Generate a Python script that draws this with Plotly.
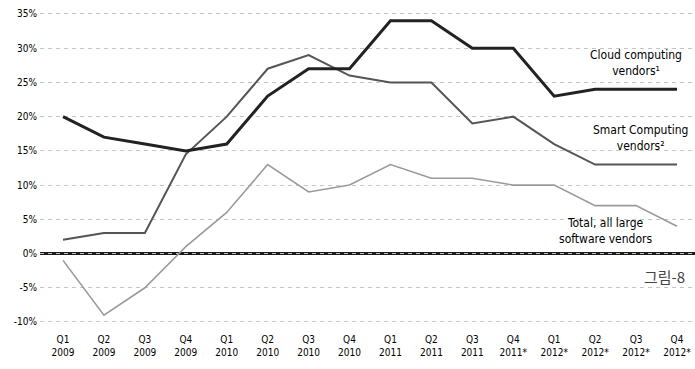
import plotly.graph_objects as go

quarters = ["Q1<br>2009", "Q2<br>2009", "Q3<br>2009", "Q4<br>2009",
            "Q1<br>2010", "Q2<br>2010", "Q3<br>2010", "Q4<br>2010",
            "Q1<br>2011", "Q2<br>2011", "Q3<br>2011", "Q4<br>2011*",
            "Q1<br>2012*", "Q2<br>2012*", "Q3<br>2012*", "Q4<br>2012*"]
cloud = [20, 17, 16, 15, 16, 23, 27, 27, 34, 34, 30, 30, 23, 24, 24, 24]
smart = [2, 3, 3, 14.5, 20, 27, 29, 26, 25, 25, 19, 20, 16, 13, 13, 13]
total = [-1, -9, -5, 1, 6, 13, 9, 10, 13, 11, 11, 10, 10, 7, 7, 4]
ytick_vals = [35, 30, 25, 20, 15, 10, 5, 0, -5, -10]
ytick_text = ["35%", "30%", "25%", "20%", "15%", "10%", "5%", "0%", "-5%", "-10%"]

FONT = "DejaVu Sans Condensed, Liberation Sans Narrow, sans-serif"
x = list(range(len(quarters)))

fig = go.Figure()
fig.add_trace(go.Scatter(x=x, y=total, mode="lines",
                         line=dict(color="#9a9a9a", width=1.6), showlegend=False))
fig.add_trace(go.Scatter(x=x, y=smart, mode="lines",
                         line=dict(color="#555555", width=2), showlegend=False))
fig.add_trace(go.Scatter(x=x, y=cloud, mode="lines",
                         line=dict(color="#222222", width=3), showlegend=False))

# zero line
fig.add_shape(type="line", xref="paper", yref="y", x0=0, x1=1, y0=0, y1=0,
              line=dict(color="#1a1a1a", width=3), layer="below")

fig.update_layout(
    width=695, height=369,
    margin=dict(l=40, r=0, t=10, b=39),
    plot_bgcolor="white", paper_bgcolor="white",
    font=dict(family=FONT, color="#000000", size=10),
    xaxis=dict(range=[-0.562, 15.44], tickmode="array", tickvals=x, ticktext=quarters,
               showgrid=False, zeroline=False, showline=False, ticks="",
               tickfont=dict(size=10, family=FONT), ticklabelstandoff=2),
    yaxis=dict(range=[-11.17, 35.58], tickmode="array", tickvals=ytick_vals,
               ticktext=ytick_text, showgrid=True, gridcolor="#c4c4c4",
               griddash="4px,4px", gridwidth=1, zeroline=False, showline=False,
               ticks="", tickfont=dict(size=10, family=FONT), ticklabelstandoff=2),
)

ann = [
    ("Cloud computing<br>vendors¹", 636, 63),
    ("Smart Computing<br>vendors²", 640, 138),
    ("Total, all large<br>software vendors", 606, 231),
]
for t, px, py in ann:
    fig.add_annotation(text=t, xref="paper", yref="paper",
                       x=(px - 40) / 655, y=1 - (py - 10) / 320,
                       showarrow=False, font=dict(size=12, family=FONT, color="#000000"),
                       align="center", xanchor="center", yanchor="middle")
fig.add_annotation(text="그림-8", xref="paper", yref="paper",
                   x=(664 - 40) / 655, y=1 - (276 - 10) / 320, showarrow=False,
                   font=dict(size=15, family="Noto Sans CJK KR", color="#444444"),
                   xanchor="center", yanchor="middle")

fig.write_html("out.html")
